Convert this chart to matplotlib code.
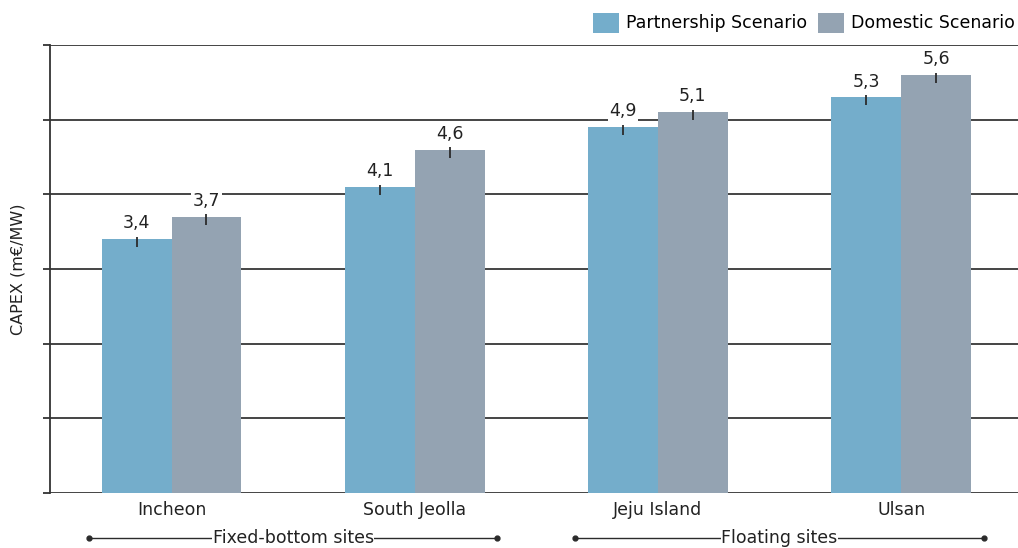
import numpy as np
import matplotlib.pyplot as plt

sites = ["Incheon", "South Jeolla", "Jeju Island", "Ulsan"]
partnership = [3.4, 4.1, 4.9, 5.3]
domestic = [3.7, 4.6, 5.1, 5.6]
groups = ["Fixed-bottom sites", "Floating sites"]
group_span = [(-0.34, 1.34), (1.66, 3.34)]

blue = "#74adcb"
grey = "#94a3b2"
dark = "#2b2b2b"
fs = 12.5

fig = plt.figure(figsize=(10.18, 5.48), dpi=100)
ax = fig.add_axes([0.049, 0.1004, 0.951, 0.8175])

x = np.arange(len(sites))
w = 0.287
ax.bar(x - w / 2, partnership, w, color=blue, label="Partnership Scenario", zorder=2)
ax.bar(x + w / 2, domestic, w, color=grey, label="Domestic Scenario", zorder=2)

# small error ticks at the bar tops
for xs, vals in [(x - w / 2, partnership), (x + w / 2, domestic)]:
    ax.errorbar(xs, vals, yerr=[[0.11] * 4, [0.03] * 4], fmt="none",
                ecolor=dark, elinewidth=1.3, capsize=0, zorder=3)
    for xi, v in zip(xs, vals):
        ax.text(xi, v + 0.09, f"{v:.1f}".replace(".", ","), ha="center", va="bottom",
                fontsize=fs, color="#222222", zorder=4,
                bbox=dict(facecolor="white", edgecolor="none", pad=1.0))

ax.set_ylim(0, 6)
ax.set_xlim(-0.5, 3.48)
ax.set_yticks(np.arange(0, 7, 1))
ax.set_yticklabels([])
ax.tick_params(axis="y", length=5, width=1.3, color="#333333")
ax.tick_params(axis="x", length=0, labelsize=fs, pad=6, labelcolor="#222222")
ax.set_xticks(x)
ax.set_xticklabels(sites)
ax.yaxis.grid(True, color="#444444", linewidth=1.4, zorder=0)
ax.set_axisbelow(True)
for s in ["top", "right", "bottom"]:
    ax.spines[s].set_visible(False)
ax.spines["left"].set_linewidth(1.3)
ax.spines["left"].set_color("#333333")
ax.set_ylabel("CAPEX (m€/MW)", fontsize=11.5, color="#222222", labelpad=9)

# group brackets under the axis
yb = -0.6
for name, (x0, x1) in zip(groups, group_span):
    ax.plot([x0, x1], [yb, yb], color=dark, linewidth=1.0, clip_on=False)
    ax.plot([x0, x1], [yb, yb], "o", color=dark, markersize=3.5, clip_on=False)
    ax.text((x0 + x1) / 2, yb, name, ha="center", va="center", fontsize=fs,
            color="#222222", bbox=dict(facecolor="white", edgecolor="none", pad=0.5))

ax.legend(loc="lower right", bbox_to_anchor=(1.0, 1.02), ncol=2, frameon=False,
          fontsize=fs, handlelength=1.5, handleheight=1.4, handletextpad=0.4,
          columnspacing=0.6, borderpad=0.1, borderaxespad=0.1)

fig.savefig("out.png", dpi=100)
